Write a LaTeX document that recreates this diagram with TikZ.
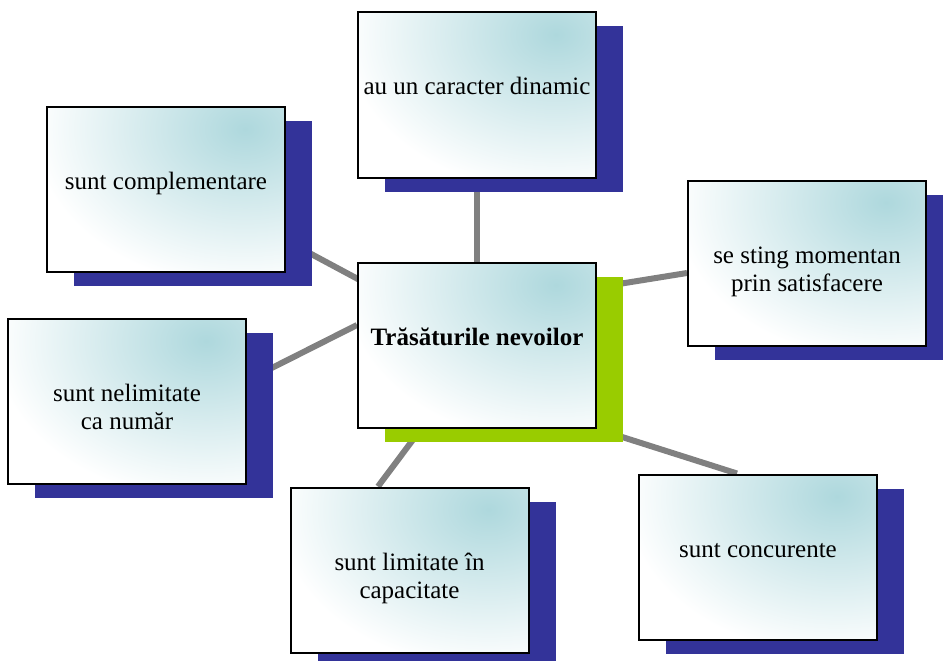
\documentclass[tikz,border=0pt]{standalone}
\usepackage{fontspec}
\setmainfont{Liberation Serif}
\usetikzlibrary{shadows,calc}
\pgfdeclarelayer{background}
\pgfsetlayers{background,main}

\definecolor{shadowblue}{RGB}{51,51,153}
\definecolor{shadowgreen}{RGB}{153,204,0}
\definecolor{tealtint}{RGB}{174,216,221}
\definecolor{linkgray}{RGB}{128,128,128}

\tikzset{
  card/.style={draw=black, line width=2pt, minimum width=238pt, minimum height=165pt,
    inner sep=0pt, fill=white,
    path picture={\shade[inner color=tealtint, outer color=white]
      ([xshift=-40pt,yshift=-22pt]path picture bounding box.north east)
      ellipse (212pt and 158pt);}},
  blueshadow/.style={general shadow={fill=shadowblue, shadow xshift=27pt, shadow yshift=-14pt}},
  greenshadow/.style={general shadow={fill=shadowgreen, shadow xshift=27pt, shadow yshift=-14pt}},
  label/.style={font=\fontsize{25}{28}\selectfont, align=center, inner sep=0pt, anchor=base},
  twolines/.style={yshift=-28pt},
  link/.style={draw=linkgray, line width=6pt},
}

\begin{document}
\begin{tikzpicture}[x=1pt,y=-1pt]
\useasboundingbox (0,0) rectangle (943,661);

% central card and the six surrounding ones
\node[card, greenshadow] (c)     at (477,345.5) {};
\node[card, blueshadow]  (top)   at (477,95)    {};
\node[card, blueshadow]  (comp)  at (166,189.5) {};
\node[card, blueshadow]  (sting) at (807,263)   {};
\node[card, blueshadow]  (nel)   at (127,401.5) {};
\node[card, blueshadow]  (lim)   at (409.5,570) {};
\node[card, blueshadow]  (conc)  at (758,557)   {};

\node[label, font=\fontsize{25}{28}\selectfont\bfseries] (tc) at (c.center) {Trăsăturile nevoilor};
\node[label] (ttop)   at (top.center)   {au un caracter dinamic};
\node[label] (tcomp)  at (comp.center)  {sunt complementare};
\node[label, twolines] (tsting) at (sting.center) {se sting momentan\\prin satisfacere};
\node[label, twolines] (tnel)   at (nel.center)   {sunt nelimitate\\ca număr};
\node[label, twolines] (tlim)   at (lim.center)   {sunt limitate în\\capacitate};
\node[label] (tconc)  at (conc.center)  {sunt concurente};

% connectors run underneath the cards and their shadows
\begin{pgfonlayer}{background}
  \draw[link] (top.south) -- (c.north);
  \draw[link] ($(comp.east)+(0,51)$) -- ($(c.west)+(13,-60)$);
  \draw[link] ($(c.east)+(0,-58)$) -- ($(sting.west)+(0,10)$);
  \draw[link] ($(nel.east)+(0,-21)$) -- ($(c.west)+(0,-20.5)$);
  \draw[link] ($(lim.north)+(-31.5,0)$) -- ($(c.south)+(-56,0)$);
  \draw[link] (c.south east) -- ($(conc.north)+(-21,0)$);
\end{pgfonlayer}
\end{tikzpicture}
\end{document}
